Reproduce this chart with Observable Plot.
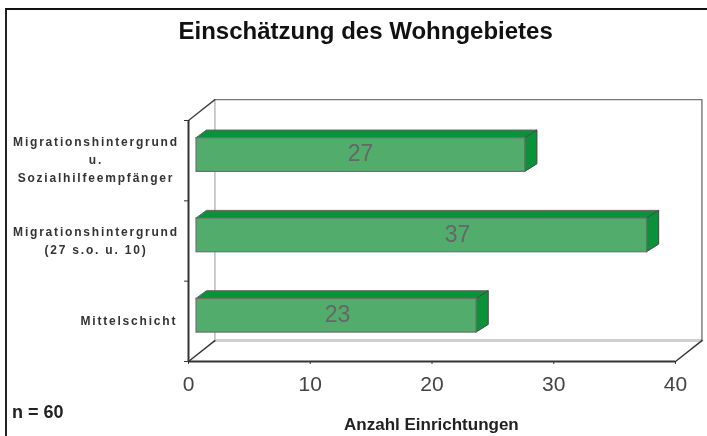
<!DOCTYPE html>
<html lang="de">
<head>
<meta charset="utf-8">
<script src="https://cdn.jsdelivr.net/npm/d3@7"></script>
<script src="https://cdn.jsdelivr.net/npm/@observablehq/plot@0.6"></script>
<style>
html,body{margin:0;padding:0;background:#fff;}
#frame{position:absolute;left:5px;top:8px;width:702px;height:428px;border-left:2px solid #222;border-top:2px solid #111;box-sizing:border-box;filter:blur(0.4px);}
#chart{position:absolute;left:0;top:0;width:707px;height:436px;filter:blur(0.6px);}
svg{overflow:visible;}
g[font-size="12"], g[font-size="12"] text, g[font-size="12"] tspan{letter-spacing:1.8px;}
</style>
</head>
<body>
<div id="frame"></div>
<div id="chart"></div>
<script>
const categories = ["Mittelschicht", "Migrationshintergrund\n(27 s.o. u. 10)", "Migrationshintergrund\nu.\nSozialhilfeempfänger"];
const values = [23, 37, 27];
const xTicks = [0, 10, 20, 30, 40];
const yTicks = [0, 1, 2, 3];
const title = "Einschätzung des Wohngebietes";
const xTitle = "Anzahl Einrichtungen";
const note = "n = 60";
// where each label sits along the x scale, as in the source picture
const valueLabelX = [12.24, 22.1, 14.13];
const categoryLabelX = [-4.9, -7.6, -7.6];

// depth of the pseudo-3D box and bars, in data units
const wallX = 2.17, wallY = 0.26;
const insetX = 0.66, barShift = 0.07, halfBar = 0.21;
const depthX = 1, depthY = 0.095;
const xMax = 40, yMax = 3;

const bars = categories.map((c, i) => ({c, v: values[i], pos: i + 0.5 + barShift, labelX: valueLabelX[i]}));
const topFace = bars.flatMap(b => [
  {b: b.c, x1: insetX, x2: insetX + b.v, y: b.pos + halfBar},
  {b: b.c, x1: insetX + depthX * 0.85, x2: insetX + b.v + depthX, y: b.pos + halfBar + depthY}
]);
const sideFace = bars.flatMap(b => [
  {b: b.c, x: insetX + b.v, y1: b.pos - halfBar, y2: b.pos + halfBar},
  {b: b.c, x: insetX + b.v + depthX, y1: b.pos - halfBar + depthY, y2: b.pos + halfBar + depthY}
]);
const wallOuter = [[wallX, yMax + wallY], [xMax + wallX, yMax + wallY], [xMax + wallX, wallY]];
const wallLeft = [[wallX, wallY], [wallX, yMax + wallY]];
const wallFloor = [[wallX, wallY], [xMax + wallX, wallY]];
const floorEdges = [[0, 0], [wallX, wallY]];
const floorRight = [[xMax, 0], [xMax + wallX, wallY]];
const topEdge = [[0, yMax], [wallX, yMax + wallY]];
const labelFont = "'Liberation Sans', Arial, sans-serif";
const px = {x: d => d[0], y: d => d[1]};

const plot = Plot.plot({
  width: 707, height: 436,
  marginLeft: 188, marginRight: 32, marginTop: 120, marginBottom: 75,
  x: {domain: [0, xMax]},
  y: {domain: [0, yMax]},
  style: {fontFamily: labelFont, background: "transparent"},
  marks: [
    Plot.line(wallLeft, {...px, stroke: "#b5b5b5", strokeWidth: 1.4}),
    Plot.line(wallFloor, {...px, stroke: "#cfcfcf", strokeWidth: 3}),
    Plot.line(wallOuter, {...px, stroke: "#777", strokeWidth: 1.4}),
    Plot.line(floorEdges, {...px, stroke: "#333", strokeWidth: 1.4}),
    Plot.line(floorRight, {...px, stroke: "#333", strokeWidth: 1.4}),
    Plot.line(topEdge, {...px, stroke: "#444", strokeWidth: 1.4}),
    Plot.ruleX([0], {y1: 0, y2: yMax, stroke: "#333", strokeWidth: 2}),
    Plot.ruleY([0], {x1: 0, x2: xMax, stroke: "#333", strokeWidth: 2}),
    Plot.axisX({ticks: xTicks, tickSize: 3, tickPadding: 12, label: null, fontSize: 21, stroke: "#333", fill: "#444", tickFormat: d => d}),
    Plot.axisY({ticks: yTicks, tickSize: 4, tickPadding: 0, label: null, stroke: "#333", tickFormat: () => ""}),
    Plot.areaX(topFace, {x1: "x1", x2: "x2", y: "y", z: "b", fill: "#0a9139", stroke: "#666", strokeWidth: 1}),
    Plot.areaY(sideFace, {x: "x", y1: "y1", y2: "y2", z: "b", fill: "#0a9139", stroke: "#444", strokeWidth: 1}),
    Plot.rect(bars, {x1: insetX, x2: d => insetX + d.v, y1: d => d.pos - halfBar, y2: d => d.pos + halfBar, fill: "#52ad6c", stroke: "#6e6e6e", strokeWidth: 1.2}),
    Plot.text(bars, {x: "labelX", y: "pos", dy: -1, text: d => String(d.v), fontSize: 23, fill: "#666"}),
    Plot.text(categories, {x: (d, i) => categoryLabelX[i], y: (d, i) => i + 0.5, dy: -2, text: d => d, textAnchor: "middle", lineHeight: 1.5, fontSize: 12, fontWeight: "bold", fill: "#333"}),
    Plot.text([title], {x: 14.55, y: 4.11, text: d => d, fontSize: 24, fontWeight: "bold", fill: "#111"}),
    Plot.text([xTitle], {x: 19.95, y: -0.78, text: d => d, fontSize: 17, fontWeight: "bold", fill: "#222"}),
    Plot.text([note], {x: -14.5, y: -0.63, text: d => d, textAnchor: "start", fontSize: 18, fontWeight: "bold", fill: "#222"})
  ]
});
document.getElementById("chart").appendChild(plot);
</script>
</body>
</html>
